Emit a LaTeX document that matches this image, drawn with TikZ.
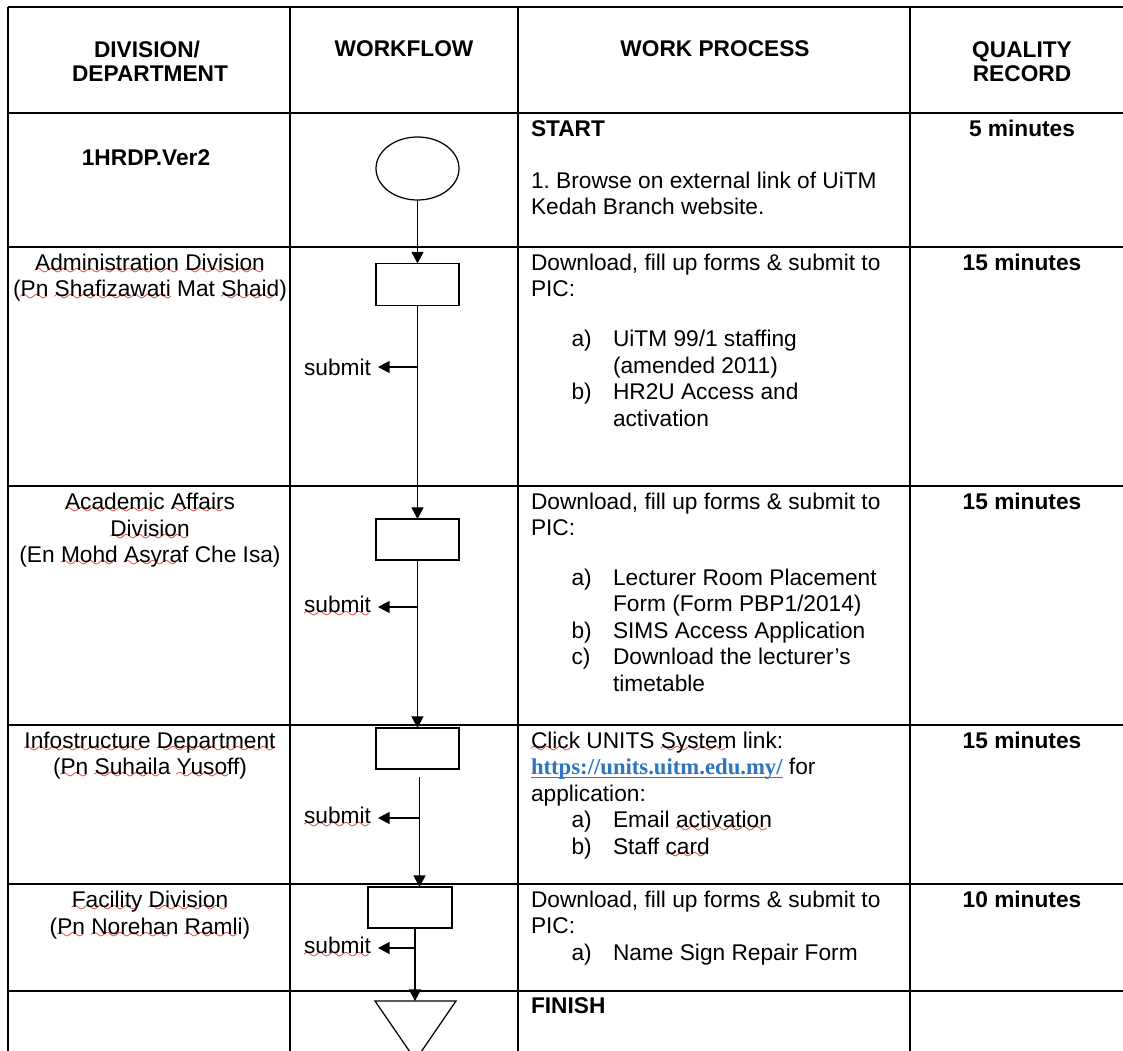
\documentclass[tikz,border=0pt]{standalone}
\usepackage{fontspec}
\setmainfont{Liberation Sans}
\newfontfamily\linkfont{Liberation Serif}
\usetikzlibrary{arrows.meta,shapes.geometric}
\definecolor{linkblue}{RGB}{46,116,190}
\definecolor{squig}{RGB}{228,40,40}
\font\wavefont=lasy6 scaled 1250
\frenchspacing
\newcommand\sq[1]{\setbox0\hbox{#1}\rlap{\raisebox{-2.2pt}{\textcolor{squig}{\hbox to \wd0{\leaders\hbox{\wavefont\char58}\hfil}}}}\box0\relax}
\newcommand\fs{\fontsize{11}{13}\selectfont\frenchspacing}
\newcommand\lnk[1]{{\linkfont\bfseries\color{linkblue}\setbox0\hbox{#1}\rlap{\rule[-1.6pt]{\wd0}{0.55pt}}\box0\relax}}
\tikzset{
  gridline/.style={line width=0.7pt, black},
  flow/.style={line width=0.6pt, black},
  arr/.style={flow, -{Triangle[length=5.6pt,width=5.8pt]}},
  lt/.style={anchor=base west},
  ct/.style={anchor=base},
  bt/.style={anchor=base west, font=\fs\bfseries},
  bc/.style={anchor=base, font=\fs\bfseries},
  sub/.style={anchor=east},
  boxn/.style={draw, line width=0.6pt, rectangle, minimum width=83*0.48458pt, minimum height=42*0.48458pt},
}
\begin{document}
\begin{tikzpicture}[x=0.48458pt, y=-0.48458pt,
  every node/.style={inner sep=0pt, outer sep=0pt, font=\fs}]
\useasboundingbox (0,0) rectangle (1123,1050);
\fill[white] (0,0) rectangle (1123,1050);

% table grid
\foreach \yy in {7,113,247,486,725,884,991}
  \draw[gridline] (8,\yy) -- (1124,\yy);
\foreach \xx in {8,290,518,910}
  \draw[gridline] (\xx,7) -- (\xx,1052);

% header
\node[bc] (h1a) at (147,58) {DIVISION/};
\node[bc] (h1b) at (150,82) {DEPARTMENT};
\node[bc] (h2) at (404,57) {WORKFLOW};
\node[bc] (h3) at (715,57) {WORK PROCESS};
\node[bc] (h4a) at (1022,58) {QUALITY};
\node[bc] (h4b) at (1022,82) {RECORD};

% column 1
\node[bc] (d0) at (146,165) {1HRDP.Ver2};
\node[ct] (d1a) at (150,270) {\sq{Administration} \sq{Division}};
\node[ct] (d1b) at (150,296) {(\sq{Pn} \sq{Shafizawati} Mat \sq{Shaid})};
\node[ct] (d2a) at (150,509) {\sq{Academic} \sq{Affairs}};
\node[ct] (d2b) at (150,536) {\sq{Division}};
\node[ct] (d2c) at (150,562) {(En \sq{Mohd} \sq{Asyraf} Che Isa)};
\node[ct] (d3a) at (150,748) {\sq{Infostructure} \sq{Department}};
\node[ct] (d3b) at (150,774) {(\sq{Pn} \sq{Suhaila} \sq{Yusoff})};
\node[ct] (d4a) at (150,907) {\sq{Facility} \sq{Division}};
\node[ct] (d4b) at (150,934) {(\sq{Pn} \sq{Norehan} \sq{Ramli})};

% column 3: work process
\node[bt] (p0a) at (531,136) {START};
\node[lt] (p0b) at (531,188) {1. Browse on external link of UiTM};
\node[lt] (p0c) at (531,214) {Kedah Branch website.};

\node[lt] (p1a) at (531,270) {Download, fill up forms \& submit to};
\node[lt] (p1b) at (531,296.5) {PIC:};
\node[lt] (p1c) at (571.5,346) {a)};
\node[lt] (p1d) at (613,346) {UiTM 99/1 staffing};
\node[lt] (p1e) at (613,373) {(amended 2011)};
\node[lt] (p1f) at (571.5,399) {b)};
\node[lt] (p1g) at (613,399) {HR2U Access and};
\node[lt] (p1h) at (613,426) {activation};

\node[lt] (p2a) at (531,509) {Download, fill up forms \& submit to};
\node[lt] (p2b) at (531,535.5) {PIC:};
\node[lt] (p2c) at (571.5,585) {a)};
\node[lt] (p2d) at (613,585) {Lecturer Room Placement};
\node[lt] (p2e) at (613,611.5) {Form (Form PBP1/2014)};
\node[lt] (p2f) at (571.5,638) {b)};
\node[lt] (p2g) at (613,638) {SIMS Access Application};
\node[lt] (p2h) at (571.5,664.5) {c)};
\node[lt] (p2i) at (613,664.5) {Download the lecturer’s};
\node[lt] (p2j) at (613,691) {timetable};

\node[lt] (p3a) at (531,748) {\sq{Click} UNITS \sq{System} link:};
\node[lt] (p3b) at (531,774.5) {\lnk{https://units.uitm.edu.my/} for};
\node[lt] (p3c) at (531,801) {application:};
\node[lt] (p3d) at (571.5,827.5) {a)};
\node[lt] (p3e) at (613,827.5) {Email \sq{activation}};
\node[lt] (p3f) at (571.5,854) {b)};
\node[lt] (p3g) at (613,854) {Staff \sq{card}};

\node[lt] (p4a) at (531,907) {Download, fill up forms \& submit to};
\node[lt] (p4b) at (531,933.5) {PIC:};
\node[lt] (p4c) at (571.5,960) {a)};
\node[lt] (p4d) at (613,960) {Name Sign Repair Form};

\node[bt] (p5a) at (531,1013) {FINISH};

% column 4: quality record
\node[bc] (q0) at (1022,137) {5 minutes};
\node[bc] (q1) at (1022,270) {15 minutes};
\node[bc] (q2) at (1022,509) {15 minutes};
\node[bc] (q3) at (1022,748) {15 minutes};
\node[bc] (q4) at (1022,907) {10 minutes};

% column 2: workflow
\node[draw, line width=0.6pt, ellipse, minimum width=83*0.48458pt, minimum height=63*0.48458pt] (start) at (417.5,168.5) {};
\node[boxn] (b1) at (417.5,284.5) {};
\node[boxn, minimum height=41*0.48458pt] (b2) at (417.5,539.5) {};
\node[boxn, minimum height=41*0.48458pt] (b3) at (417.5,748.5) {};
\node[boxn, minimum width=84*0.48458pt, minimum height=41*0.48458pt] (b4) at (410,907.5) {};

\coordinate (fin) at (415,1001);
\coordinate (finL) at (375,1001);
\coordinate (finR) at (456,1001);
\coordinate (finA) at (415.5,1060);
\draw[flow] (finL) -- (finR) -- (finA) -- cycle;

\draw[arr] (start.south) -- (b1.north);
\draw[arr] (b1.south) -- (b2.north);
\draw[arr] (b2.south) -- (b3.north);
\coordinate (g3) at (419.5,777);
\draw[arr] (g3) -- (g3 |- b4.north);
\draw[arr] (fin |- b4.south) -- (fin);

% submit branches
\coordinate (j1) at (417.5,367);  \coordinate (t1) at (378,367);
\coordinate (j2) at (417.5,607);  \coordinate (t2) at (378,607);
\coordinate (j3) at (419.5,818);  \coordinate (t3) at (378,818);
\coordinate (j4) at (415,948);    \coordinate (t4) at (378,948);
\draw[arr] (j1) -- (t1);
\draw[arr] (j2) -- (t2);
\draw[arr] (j3) -- (t3);
\draw[arr] (j4) -- (t4);
\node[sub] (s1) at (371,367) {submit};
\node[sub] (s2) at (371,607) {\sq{submit}};
\node[sub] (s3) at (371,818) {\sq{submit}};
\node[sub] (s4) at (371,948) {\sq{submit}};
\end{tikzpicture}
\end{document}
